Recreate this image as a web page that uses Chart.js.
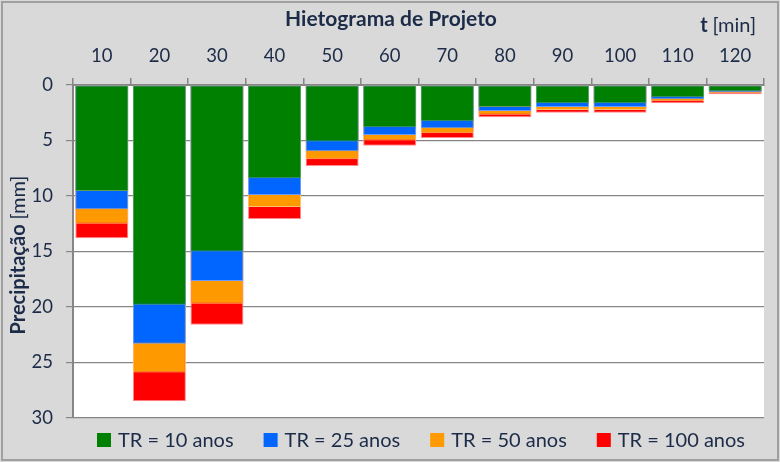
<!DOCTYPE html>
<html><head><meta charset="utf-8">
<script src="https://cdn.jsdelivr.net/npm/chart.js@4.4.0/dist/chart.umd.min.js"></script>
<style>html,body{margin:0;padding:0;background:#d9d9d9}#wrap{width:780px;height:462px;position:relative}</style>
</head><body><div id="wrap"><canvas id="c" width="780" height="462"></canvas></div>
<script>
const categories = ['10','20','30','40','50','60','70','80','90','100','110','120'];
const tr10  = [9.55, 19.8, 15.0, 8.4, 5.1, 3.8, 3.27, 1.98, 1.65, 1.65, 1.1, 0.57];
const tr25  = [11.2, 23.3, 17.65, 9.9, 5.97, 4.5, 3.9, 2.34, 1.98, 1.98, 1.29, 0.66];
const tr50  = [12.5, 25.9, 19.7, 11.0, 6.7, 5.0, 4.35, 2.67, 2.25, 2.25, 1.47, 0.75];
const tr100 = [13.8, 28.5, 21.6, 12.07, 7.3, 5.47, 4.77, 2.9, 2.5, 2.5, 1.65, 0.84];
const seriesLabels = ['TR = 10 anos','TR = 25 anos','TR = 50 anos','TR = 100 anos'];
const yMin = 0, yMax = 30, yStep = 5;

const FONT = 'Lato, "Open Sans", sans-serif';
const TXT = '#1c2b48';
const fills = ['#008000','#0066ff','#ff9900','#ff0000'];
const edges = ['#5aa05a','#6a9cff','#ffc070','#ff8a8a'];

const decor = {
  id: 'decor',
  beforeDraw(chart) {
    const {ctx, chartArea: a, width, height} = chart;
    ctx.save();
    ctx.fillStyle = '#d9d9d9';
    ctx.fillRect(0, 0, width, height);
    ctx.fillStyle = '#ffffff';
    ctx.fillRect(a.left, a.top, a.right - a.left, a.bottom - a.top);
    ctx.restore();
  },
  afterDraw(chart) {
    const {ctx, width, height} = chart;
    ctx.save();
    ctx.strokeStyle = '#a0a0a0';
    ctx.lineWidth = 2;
    ctx.strokeRect(2, 2, width - 4, height - 4);
    ctx.fillStyle = TXT;
    // title
    ctx.font = 'bold 21px ' + FONT;
    ctx.textAlign = 'center';
    ctx.textBaseline = 'middle';
    ctx.fillText('Hietograma de Projeto', 391, 19);
    // t [min]
    ctx.textAlign = 'left';
    ctx.font = 'bold 20px ' + FONT;
    const wt = ctx.measureText('t ').width;
    ctx.font = '20px ' + FONT;
    const wm = ctx.measureText('[min]').width;
    let x0 = 756 - wt - wm;
    ctx.font = 'bold 20px ' + FONT;
    ctx.fillText('t ', x0, 26);
    ctx.font = '20px ' + FONT;
    ctx.fillText('[min]', x0 + wt, 26);
    // y title
    ctx.translate(19, 255);
    ctx.rotate(-Math.PI / 2);
    ctx.font = 'bold 20px ' + FONT;
    const wp = ctx.measureText('Precipitação ').width;
    ctx.font = '20px ' + FONT;
    const wmm = ctx.measureText('[mm]').width;
    const s = -(wp + wmm) / 2;
    ctx.font = 'bold 20px ' + FONT;
    ctx.fillText('Precipitação ', s, 0);
    ctx.font = '20px ' + FONT;
    ctx.fillText('[mm]', s + wp, 0);
    ctx.setTransform(1, 0, 0, 1, 0, 0);
    // legend
    ctx.font = '20px ' + FONT;
    ctx.textBaseline = 'middle';
    const ds = chart.data.datasets;
    let widths = ds.map(d => 14 + 7 + ctx.measureText(d.label).width);
    const gap = 30;
    const total = widths.reduce((p, c) => p + c, 0) + gap * (ds.length - 1);
    let x = 421 - total / 2;
    ds.forEach((d, i) => {
      ctx.fillStyle = d.backgroundColor;
      ctx.fillRect(x, 433, 14, 14);
      ctx.fillStyle = TXT;
      ctx.fillText(d.label, x + 21, 441);
      x += widths[i] + gap;
    });
    ctx.restore();
  }
};

const seriesData = [tr10, tr25, tr50, tr100];
new Chart(document.getElementById('c'), {
  type: 'bar',
  data: {
    labels: categories,
    datasets: seriesData.map((arr, i) => ({
      label: seriesLabels[i],
      data: arr,
      backgroundColor: fills[i],
      borderColor: edges[i],
      borderWidth: 1,
      borderSkipped: false,
      barPercentage: 0.92,
      categoryPercentage: 1.0
    }))
  },
  options: {
    responsive: false,
    animation: false,
    devicePixelRatio: 1,
    layout: {padding: {left: 0, right: 16, top: 0, bottom: 44}},
    plugins: {legend: {display: false}, title: {display: false}, tooltip: {enabled: false}},
    scales: {
      x: {
        position: 'top',
        stacked: true,
        grid: {display: true, drawOnChartArea: false, offset: true, tickLength: 7, color: '#868686', lineWidth: 1.5},
        border: {display: true, color: '#868686', width: 2},
        ticks: {font: {family: FONT, size: 18.5}, color: TXT, padding: 11, maxRotation: 0, autoSkip: false},
        afterFit(s) { s.height = 85; }
      },
      y: {
        reverse: true,
        stacked: false,
        min: yMin, max: yMax,
        grid: {color: '#868686', lineWidth: 1.2, tickLength: 7},
        border: {display: true, color: '#868686', width: 2},
        ticks: {stepSize: yStep, font: {family: FONT, size: 18.5}, color: TXT, padding: 13},
        afterFit(s) { s.width = 73; }
      }
    }
  },
  plugins: [decor]
});
</script></body></html>
